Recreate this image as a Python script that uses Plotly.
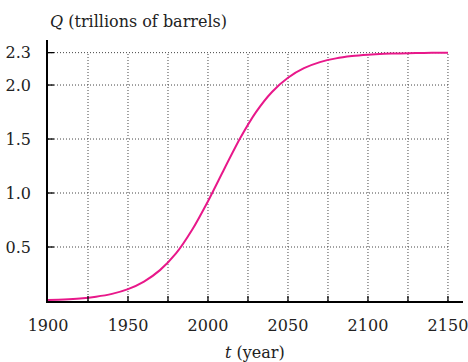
import plotly.graph_objects as go

# year and Q (trillions of barrels)
years = [1900, 1910, 1920, 1930, 1940, 1950, 1960, 1970, 1980, 1990,
         2000, 2010, 2020, 2030, 2040, 2050, 2060, 2070, 2080, 2090,
         2100, 2110, 2120, 2130, 2140, 2150]
q_values = [0.01, 0.015, 0.024, 0.04, 0.066, 0.11, 0.18, 0.286, 0.44, 0.657,
            0.924, 1.218, 1.504, 1.749, 1.936, 2.068, 2.156, 2.212, 2.247, 2.268,
            2.281, 2.289, 2.293, 2.296, 2.298, 2.299]

x_labels = [1900, 1950, 2000, 2050, 2100, 2150]
x_minor = [1925, 1950, 1975, 2000, 2025, 2050, 2075, 2100, 2125, 2150]
y_labels = [0.5, 1.0, 1.5, 2.0, 2.3]
y_text = ["0.5", "1.0", "1.5", "2.0", "2.3"]

FONT = "DejaVu Serif"
PINK = "#e8188a"

fig = go.Figure()
fig.add_trace(go.Scatter(x=years, y=q_values, mode="lines",
                         line=dict(color=PINK, width=2, shape="spline", smoothing=0.6),
                         hoverinfo="skip"))

shapes = []
# dotted grid, limited to the 1900-2150 / 0-2.3 box
for yv in y_labels:
    shapes.append(dict(type="line", xref="x", yref="y", x0=1900, x1=2150, y0=yv, y1=yv,
                       line=dict(color="#444444", width=1, dash="1px,2px"), layer="below"))
for xv in x_minor:
    shapes.append(dict(type="line", xref="x", yref="y", x0=xv, x1=xv, y0=0, y1=2.3,
                       line=dict(color="#444444", width=1, dash="1px,2px"), layer="below"))
# tick marks crossing the axes
for xv in x_minor:
    shapes.append(dict(type="line", xref="x", yref="y", xsizemode="scaled",
                       ysizemode="pixel", yanchor=0, x0=xv, x1=xv, y0=-5, y1=5,
                       line=dict(color="black", width=1.3)))
for yv in y_labels:
    shapes.append(dict(type="line", xref="x", yref="y", xsizemode="pixel",
                       xanchor=1900, x0=-6, x1=6, y0=yv, y1=yv,
                       line=dict(color="black", width=1.3)))

fig.update_layout(
    width=468, height=362,
    margin=dict(l=48, r=5, t=40, b=61),
    plot_bgcolor="white", paper_bgcolor="white",
    showlegend=False,
    font=dict(family=FONT, size=16, color="#222222"),
    shapes=shapes,
    xaxis=dict(range=[1900, 2159.4], showgrid=False, zeroline=False,
               showline=True, linecolor="black", linewidth=1.5,
               tickvals=x_labels, ticks="", ticklabelstandoff=9,
               ticklabeloverflow="allow",
               automargin=False, fixedrange=True),
    yaxis=dict(range=[0, 2.417], showgrid=False, zeroline=False,
               showline=True, linecolor="black", linewidth=1.5,
               tickvals=y_labels, ticktext=y_text, ticks="", ticklabelstandoff=12,
               ticklabeloverflow="allow",
               automargin=False, fixedrange=True),
    annotations=[
        dict(text="<i>Q</i> (trillions of barrels)", xref="paper", yref="paper",
             x=0, y=1, xanchor="left", yanchor="bottom", yshift=7, showarrow=False,
             font=dict(family=FONT, size=16, color="#222222")),
        dict(text="<i>t</i> (year)", xref="paper", yref="paper",
             x=0.499, y=0, xanchor="center", yanchor="top", yshift=-40, showarrow=False,
             font=dict(family=FONT, size=16, color="#222222")),
    ],
)

# the page's default body margin shifts the figure by 8px; remove it
fig.write_html("out.html", config={"displayModeBar": False},
               post_script="document.body.style.margin='0px';")
